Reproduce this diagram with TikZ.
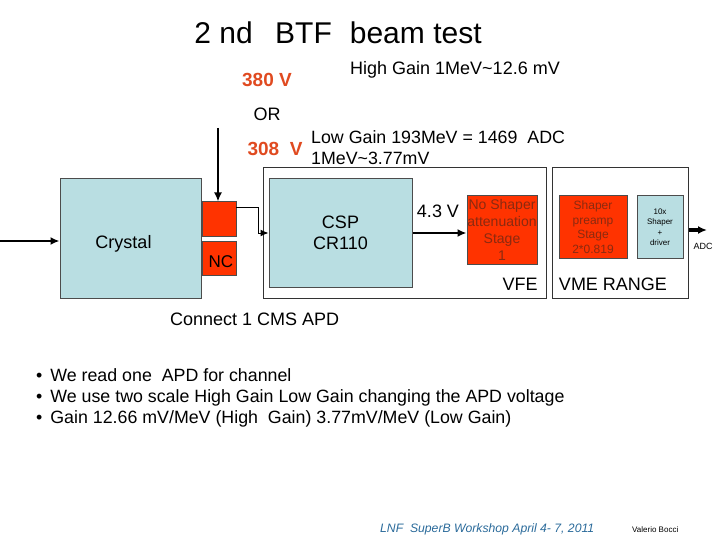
\documentclass[tikz,border=0pt]{standalone}
\usepackage{fontspec}
\setmainfont{Liberation Sans}
\usetikzlibrary{arrows.meta}
\usetikzlibrary{positioning}
\definecolor{boxblue}{HTML}{B9DEE2}
\definecolor{apdred}{HTML}{FF3300}
\definecolor{voltred}{HTML}{E04A20}
\definecolor{stagetext}{HTML}{8A2A10}
\definecolor{footblue}{HTML}{2A6A9A}
\newcommand{\fsz}[1]{\fontsize{#1}{1.2\dimexpr#1pt\relax}\selectfont}
\tikzset {
  % block of the readout chain
  block/.style = {
    draw = black!70,
    line width = 1pt,
    inner sep = 0,
    align = center
  },
  blue block/.style = {
    block,
    fill = boxblue
  },
  red block/.style = {
    block,
    fill = apdred
  },
  % white frame round a board
  board/.style = {
    draw = black!80,
    line width = 1pt,
    fill = white,
    inner sep = 0
  },
  % signal lines
  arr/.style = {
    draw = black,
    line width = 2pt,
    -{Latex[length=9pt, width=8pt]}
  },
  narr/.style = {
    draw = black,
    line width = 1pt,
    -{Latex[length=8pt, width=7pt]}
  },
  % plain text
  txt/.style = {
    inner sep = 0,
    align = left
  },
  volt/.style = {
    txt,
    text = voltred,
    font = \fsz{19}\bfseries
  }
}

\begin{document}
\begin{tikzpicture}[x=1pt, y=-1pt]
    \useasboundingbox (0,0) rectangle (720,540);

    \node[txt, font=\fsz{30}] (title) at (338,33) {2 nd\hspace{0.75em}BTF\hspace{0.6em}beam test};

    % bias voltages
    \node[volt] (hv-high) at (267,80) {380 V};
    \node[txt, font=\fsz{18}, anchor=west] (high-gain) at (350,70) {High Gain 1MeV\textasciitilde12.6 mV};
    \node[txt, font=\fsz{18}] (or) at (267,114) {OR};
    \node[volt] (hv-low) at (275,149) {308\ \ V};
    \node[txt, font=\fsz{17.8}, anchor=west] (low-gain) at (311,147.5)
      {Low Gain 193MeV = 1469\ \ ADC\\1MeV\textasciitilde3.77mV};

    % boards
    \node[board, minimum width=283pt, minimum height=130pt] (vfe) at (404.5,233) {};
    \node[board, minimum width=136pt, minimum height=130pt] (vme) at (620,233) {};

    % chain
    \node[blue block, minimum width=141pt, minimum height=119pt] (crystal) at (130.5,238.5) {};
    \node[red block, minimum size=34pt] (apd) at (219,219) {};
    \node[red block, minimum size=34pt] (nc) at (219,258) {};
    \node[blue block, minimum width=143pt, minimum height=108pt, font=\fsz{18}] (csp) at (340.5,233) {CSP\\CR110};
    \node[red block, minimum width=70pt, minimum height=68pt, text=stagetext, font=\fontsize{14}{17}\selectfont] (att) at (502,230)
      {No Shaper\\attenuation\\Stage\\1};
    \node[red block, minimum width=68pt, minimum height=62pt, text=stagetext, font=\fontsize{12}{14.5}\selectfont] (preamp) at (593,227)
      {Shaper\\preamp\\Stage\\2*0.819};
    \node[blue block, minimum width=46pt, minimum height=62pt, font=\fontsize{8}{10.5}\selectfont] (driver) at (660,227)
      {10x\\Shaper\\+\\driver};

    \node[txt, font=\fsz{18}] (crystal-name) at (123.5,244) {Crystal};
    \node[txt, font=\fsz{17}] (nc-name) at (221,262) {NC};
    \node[txt, font=\fsz{18}] (att-volt) at (438,211) {4.3 V};
    \node[txt, font=\fsz{18}] (vfe-name) at (520,284) {VFE};
    \node[txt, font=\fsz{18}] (vme-name) at (613,284) {VME RANGE};
    \node[txt, font=\fsz{9}] (adc) at (703,246) {ADC};

    \coordinate (beam) at (0,241);
    \coordinate (hv-in) at (218,128);
    \coordinate (apd-out) at (236,208);
    \coordinate (apd-bend) at (258,208);
    \coordinate (adc-end) at (707,230);

    \draw[arr] (beam) -- (beam -| crystal.west);
    \draw[arr] (hv-in) -- (hv-in |- apd.north);
    \draw[narr] (apd-out) -- (apd-bend) |- (csp.west);
    \draw[arr] (csp.east) -- (csp.east -| att.west);
    \draw[arr, line width=3pt] (adc-end -| vme.east) -- (adc-end);

    \node[txt, font=\fsz{18}, anchor=west] (apd-note) at (170,319) {Connect 1 CMS APD};

    \node[txt, font=\fontsize{17.8}{21}\selectfont, anchor=north west] (notes) at (36,368)
      {\textbullet\ \,We read one\ \ APD for channel\\
       \textbullet\ \,We use two scale High Gain Low Gain changing the APD voltage\\
       \textbullet\ \,Gain 12.66 mV/MeV (High\ \ Gain) 3.77mV/MeV (Low Gain)};

    \node[txt, font=\fsz{12.2}\itshape, text=footblue, anchor=west] (footer) at (380,529)
      {LNF\ \ SuperB Workshop April 4- 7, 2011};
    \node[txt, font=\fsz{8}, anchor=west] (speaker) at (632,530) {Valerio Bocci};
\end{tikzpicture}
\end{document}
